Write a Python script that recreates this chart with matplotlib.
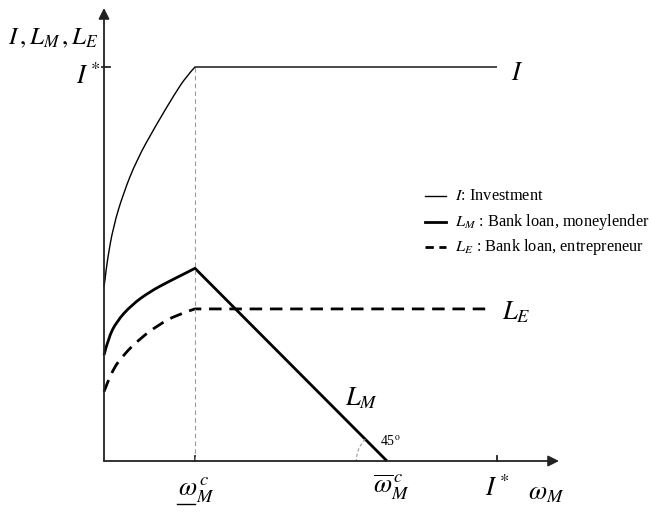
import matplotlib
matplotlib.use("Agg")
import matplotlib.pyplot as plt
from matplotlib.patches import Arc, PathPatch
from matplotlib.path import Path

plt.rcParams['font.family'] = ['Liberation Serif', 'DejaVu Serif']
plt.rcParams['mathtext.fontset'] = 'stix'

# ---- data (units: I* = 10) ----
I_star = 10.0
omega_c = 2.315
omega_bar = 7.2
LE_end = 9.77

I_x = [0, 0.025, 0.084, 0.237, 0.491, 0.832, 1.298, 1.807, 2.087, 2.315]
I_y = [4.42, 4.59, 5.10, 5.95, 6.79, 7.64, 8.48, 9.33, 9.75, 10.0]

LM_x = [0, 0.11, 0.32, 0.70, 1.17, 1.64, 1.98, 2.315]
LM_y = [2.69, 3.12, 3.54, 3.96, 4.30, 4.55, 4.72, 4.89]

LE_x = [0, 0.19, 0.49, 0.92, 1.38, 1.85, 2.315]
LE_y = [1.76, 2.27, 2.69, 3.11, 3.45, 3.71, 3.86]

# ---- figure ----
W, H = 651, 513
fig = plt.figure(figsize=(W / 100, H / 100), dpi=100)
ax = fig.add_axes([0, 0, 1, 1])
ox, oy, sx, sy = 104, 461, 39.3, 39.4
ax.set_xlim(-ox / sx, (W - ox) / sx)
ax.set_ylim(-(H - oy) / sy, oy / sy)
ax.axis('off')

def P(px, py):
    return ((px - ox) / sx, (oy - py) / sy)


def smooth_path(xs, ys, tail=()):
    """Quadratic-Bezier path using the read points as control vertices."""
    pts = list(zip(xs, ys))
    verts = [pts[0]]
    codes = [Path.MOVETO]
    n = len(pts)
    for i in range(1, n - 1):
        if i == n - 2:
            end = pts[n - 1]
        else:
            end = ((pts[i][0] + pts[i + 1][0]) / 2, (pts[i][1] + pts[i + 1][1]) / 2)
        verts += [pts[i], end]
        codes += [Path.CURVE3, Path.CURVE3]
    for t in tail:
        verts.append(t)
        codes.append(Path.LINETO)
    return Path(verts, codes)


axc = '#222222'
# axes with arrows
ax.annotate('', xy=P(104, 8), xytext=(0, 0),
            arrowprops=dict(arrowstyle='-|>', lw=1.3, color=axc, mutation_scale=16, shrinkA=0, shrinkB=0))
ax.annotate('', xy=P(559, 461), xytext=(0, 0),
            arrowprops=dict(arrowstyle='-|>', lw=1.3, color=axc, mutation_scale=16, shrinkA=0, shrinkB=0))

# ticks
ax.plot([-0.06, 0.14], [I_star, I_star], color=axc, lw=1.3)
ax.plot([omega_c, omega_c], [0, 0.13], color=axc, lw=1.3)
ax.plot([I_star, I_star], [0, 0.13], color=axc, lw=1.3)

# vertical dashed guide
ax.plot([omega_c, omega_c], [0, I_star], color='#9a9a9a', lw=0.8, ls=(0, (4, 3)))

# curves
ax.add_patch(PathPatch(smooth_path(I_x, I_y, [(I_star, I_star)]), fill=False,
                       edgecolor='black', lw=1.0, joinstyle='round'))
ax.add_patch(PathPatch(smooth_path(LM_x, LM_y, [(omega_bar, 0)]), fill=False,
                       edgecolor='black', lw=2.0, joinstyle='miter'))
ax.add_patch(PathPatch(smooth_path(LE_x, LE_y, [(LE_end, LE_y[-1])]), fill=False,
                       edgecolor='black', lw=2.0, ls=(0, (4.5, 2.8))))

# 45 degree arc
r = 0.78
ax.add_patch(Arc((omega_bar, 0), 2 * r, 2 * r, theta1=135, theta2=180,
                 color='#9a9a9a', lw=0.8, ls=(0, (3, 2))))
ax.text(*P(390, 441), r'45$^{\rm o}$', fontsize=10, ha='center', va='center')

# curve labels
ax.text(*P(362, 398), r'$L_M$', fontsize=19, ha='center', va='center')
ax.text(*P(516, 312), r'$L_E$', fontsize=19, ha='center', va='center')
ax.text(*P(517, 74), r'$I$', fontsize=19, ha='center', va='center')

# axis labels
ax.text(*P(53, 38), r'$I\,,L_M\,,L_E$', fontsize=18, ha='center', va='center')
ax.text(*P(88, 76), r'$I^*$', fontsize=19, ha='center', va='center')
ax.text(*P(497, 488), r'$I^*$', fontsize=19, ha='center', va='center')
ax.text(*P(546, 494), r'$\omega_M$', fontsize=19, ha='center', va='center')
ax.text(*P(391, 487), r'$\overline{\omega}_M^{\,c}$', fontsize=19, ha='center', va='center')
ax.text(*P(196, 490), r'$\omega_M^{\,c}$', fontsize=19, ha='center', va='center')
ax.plot([P(177, 0)[0], P(195, 0)[0]], [P(0, 504)[1]] * 2, color='black', lw=1.0)

# legend
rows = [(196, r'$I$: Investment', 1.0, '-'),
        (222, r'$L_M$ : Bank loan, moneylender', 2.0, '-'),
        (247, r'$L_E$ : Bank loan, entrepreneur', 2.0, (0, (3, 2)))]
for py, label, lw, ls in rows:
    x0, y0 = P(425, py)
    x1, _ = P(446, py)
    ax.plot([x0, x1], [y0, y0], color='black', lw=lw, ls=ls)
    ax.text(*P(455, py), label, fontsize=11.8, ha='left', va='center')

fig.savefig('out.png', dpi=100)
